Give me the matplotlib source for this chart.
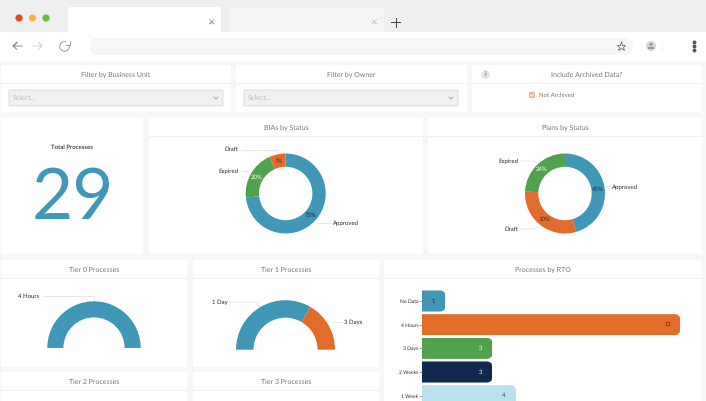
import matplotlib
matplotlib.use("Agg")
import matplotlib.pyplot as plt
from matplotlib.patches import FancyBboxPatch, Rectangle, Circle

plt.rcParams['font.family'] = ['Lato', 'DejaVu Sans']
plt.rcParams['text.hinting'] = 'no_hinting'
plt.rcParams['text.hinting_factor'] = 1

BLUE = '#4097b7'
ORANGE = '#e26d2a'
GREEN = '#51a24c'
NAVY = '#12294f'
LIGHT = '#b9e1ee'
GREY_TXT = '#777777'
DARK_TXT = '#2a2a2a'

W, H = 706, 401

# datos
total_processes = 29

bia_labels = ['Approved', 'Expired', 'Draft']
bia_counts = [11, 3, 1]

plan_labels = ['Approved', 'Draft', 'Expired']
plan_counts = [15, 10, 8]

tier0_labels = ['4 Hours']
tier0_counts = [7]

tier1_labels = ['1 Day', '3 Days']
tier1_counts = [4, 2]

rto_labels = ['No Data', '4 Hours', '3 Days', '2 Weeks', '1 Week']
rto_counts = [1, 11, 3, 3, 4]

fig = plt.figure(figsize=(W / 100, H / 100), dpi=100, facecolor='white')
bg = fig.add_axes([0, 0, 1, 1])
bg.set_xlim(0, W)
bg.set_ylim(H, 0)
bg.axis('off')


def rect(x0, y0, x1, y1, color, r=0, z=1, ec='none', lw=0):
    if r:
        p = FancyBboxPatch((x0 + r, y0 + r), x1 - x0 - 2 * r, y1 - y0 - 2 * r,
                           boxstyle='round,pad=%f,rounding_size=%f' % (r, r),
                           fc=color, ec=ec, lw=lw, zorder=z)
    else:
        p = Rectangle((x0, y0), x1 - x0, y1 - y0, fc=color, ec=ec, lw=lw, zorder=z)
    bg.add_patch(p)


def card(x0, y0, x1, y1, title=None, sep=None):
    rect(x0, y0, x1, y1, 'white', r=2, z=2)
    if title:
        bg.text((x0 + x1) / 2, y0 + 9.5, title, ha='center', va='center',
                fontsize=4.8, color=GREY_TXT, zorder=3)
    if sep:
        bg.plot([x0, x1], [sep, sep], color='#f2f2f2', lw=0.8, zorder=3)


def leader(xs, ys):
    bg.plot(xs, ys, color='#dddddd', lw=0.5, zorder=3)


# navegador
rect(0, 0, W, 32, '#efefef')
rect(68, 7, 221, 33, 'white', r=3, z=2)
rect(229, 8, 384, 32, '#f5f5f5', r=3, z=2)
rect(0, 32, W, 61, 'white')
rect(90, 38, 633, 55, '#f6f6f6', r=8, z=2)
for x, c in [(19, '#e5492a'), (32.5, '#f5b63f'), (46, '#6cbb35')]:
    bg.add_patch(Circle((x, 18), 3.6, fc=c, ec='none', zorder=3))

# iconos
bg.plot([209.5, 214, 211.7, 209.5, 214], [19.5, 24, 21.7, 24, 19.5], color='#999999', lw=0.5, zorder=3)
bg.plot([372, 376.5, 374.2, 372, 376.5], [19.5, 24, 21.7, 24, 19.5], color='#cccccc', lw=0.5, zorder=3)
bg.plot([391, 400], [22, 22], color='#444444', lw=0.7, zorder=3)
bg.plot([395.5, 395.5], [17.5, 26.5], color='#444444', lw=0.7, zorder=3)
bg.plot([22, 13, 17, 13, 17], [46, 46, 42.5, 46, 49.5], color='#8c8c8c', lw=0.7, zorder=3)
bg.plot([33, 42, 38.5, 42, 38.5], [46, 46, 42.5, 46, 49.5], color='#d4d4d4', lw=0.7, zorder=3)
bg.add_patch(Circle((64.5, 46.5), 4.8, fc='none', ec='#8c8c8c', lw=0.6, zorder=3))
rect(66, 40, 71, 45, 'white', z=3)
bg.plot([66, 69.5, 69.5], [44.5, 44.5, 41], color='#8c8c8c', lw=0.6, zorder=4)
bg.plot([620.5], [46], marker='*', ms=6.5, mfc='none', mec='#555555', mew=0.5, zorder=3)
bg.add_patch(Circle((651, 46), 5, fc='#d8d8d8', ec='none', zorder=3))
bg.add_patch(Circle((651, 44.5), 1.6, fc='#9a9a9a', ec='none', zorder=4))
rect(648, 47, 654, 49, '#9a9a9a', z=4)
bg.plot([661.5, 661.5], [42, 50], color='#eeeeee', lw=0.6, zorder=3)
bg.plot([694, 694, 694], [42, 46, 50], ls='none', marker='o', ms=1.8, color='#555555', zorder=3)

# fondo del tablero
rect(0, 61, W, H, '#f7f7f7')

# fila de filtros
card(1, 65, 231, 112, 'Filter by Business Unit', 83)
card(236, 65, 467, 112, 'Filter by Owner', 83)
card(472, 65, 702, 112, 'Include Archived Data?', 83)
for x0, x1 in [(9, 223), (244, 458)]:
    rect(x0, 90, x1, 106, '#f1f1f1', r=1.5, z=3, ec='#d9d9d9', lw=0.6)
    bg.text(x0 + 4, 98.3, 'Select...', ha='left', va='center', fontsize=5.2, color='#bdbdbd', zorder=4)
    bg.plot([x1 - 9, x1 - 7, x1 - 5], [97, 99, 97], color='#8a8a8a', lw=0.5, zorder=4)
bg.add_patch(Circle((485.5, 74.5), 4.3, fc='#e4e4e4', ec='none', zorder=3))
bg.text(485.5, 74.5, 'i', ha='center', va='center', fontsize=4.8, color='#666666', zorder=4)
rect(529, 92, 535, 98, '#eeb692', r=1, z=3)
bg.plot([530.5, 531.7, 533.7], [95, 96.3, 93.7], color='white', lw=0.6, zorder=4)
bg.text(539, 95.5, 'Not Archived', ha='left', va='center', fontsize=4.5, color=GREY_TXT, zorder=3)

# tarjetas
card(1, 118, 143, 254)
card(149, 118, 423, 254, 'BIAs by Status', 136)
card(428, 118, 702, 254, 'Plans by Status', 136)
card(1, 260, 187, 367, 'Tier 0 Processes', 278)
card(193, 260, 379, 367, 'Tier 1 Processes', 278)
card(384, 260, 702, 367 + 40, 'Processes by RTO', 278)
card(1, 372, 187, 410, 'Tier 2 Processes', 390)
card(193, 372, 379, 410, 'Tier 3 Processes', 390)

bg.text(71.5, 147, 'Total Processes', ha='center', va='center', fontsize=4.6,
        color='#444444', fontweight='bold', zorder=3)
bg.text(72.5, 198.7, str(total_processes), ha='center', va='center', fontsize=51,
        color=BLUE, fontweight='normal', zorder=3)


def pie_axes(cx, cy, r):
    # ejes cuadrados centrados en (cx, cy) con radio r en pixeles
    ax = fig.add_axes([(cx - r) / W, 1 - (cy + r) / H, 2 * r / W, 2 * r / H])
    ax.set_zorder(5)
    ax.patch.set_alpha(0)
    return ax


def donut(cx, cy, r, r_in, counts, colors, txt_colors):
    ax = pie_axes(cx, cy, r)
    wedges, texts, autotexts = ax.pie(
        counts, colors=colors, startangle=90, counterclock=False, radius=1,
        wedgeprops={'width': 1 - r_in / r, 'linewidth': 0},
        autopct='%.0f%%', pctdistance=0.83,
        textprops={'fontsize': 4.2})
    for t, c in zip(autotexts, txt_colors):
        t.set_color(c)
    ax.set_xlim(-1, 1)
    ax.set_ylim(-1, 1)


def half_donut(cx, cy, r, r_in, counts, colors):
    ax = pie_axes(cx, cy, r)
    # la mitad de abajo queda transparente
    vals = list(counts) + [sum(counts)]
    wedges, texts = ax.pie(vals, colors=list(colors) + ['none'], startangle=180,
                           counterclock=False, radius=1,
                           wedgeprops={'width': 1 - r_in / r, 'linewidth': 0})
    ax.set_xlim(-1, 1)
    ax.set_ylim(-1, 1)
    return ax


donut(285.7, 193.5, 40, 26.7, bia_counts, [BLUE, GREEN, ORANGE], [NAVY, 'white', '#5a2a10'])
donut(565, 193.5, 40, 26.7, plan_counts, [BLUE, ORANGE, GREEN], [NAVY, '#5a2a10', 'white'])

half_donut(94, 348, 46.7, 30.6, tier0_counts, [BLUE])
bg.text(94, 309.5, str(tier0_counts[0]), ha='center', va='center', fontsize=4.2, color=NAVY, zorder=6)
half_donut(285.5, 349.7, 49.5, 32, tier1_counts, [BLUE, ORANGE])
bg.text(265, 314, str(tier1_counts[0]), ha='center', va='center', fontsize=4.2, color=NAVY, zorder=6)
bg.text(321, 329.5, str(tier1_counts[1]), ha='center', va='center', fontsize=4.2, color='#5a2a10', zorder=6)


def label(x, y, s, ha):
    bg.text(x, y, s, ha=ha, va='center', fontsize=4.1, color=DARK_TXT, zorder=6)


label(238.5, 149.5, bia_labels[2], 'right')
leader([242, 277, 277], [149.5, 149.5, 152])
label(238.5, 171, bia_labels[1], 'right')
leader([242, 248], [171, 171])
label(333, 223, bia_labels[0], 'left')
leader([318, 330], [223, 223])

label(518, 161, plan_labels[2], 'right')
leader([521, 534, 537], [161, 161, 163])
label(612, 187, plan_labels[0], 'left')
leader([606, 610], [187, 186])
label(518, 229, plan_labels[1], 'right')
leader([521, 534, 538], [229, 229, 227])

label(39, 296, tier0_labels[0], 'right')
leader([43, 94, 94], [296, 296, 300])
label(220, 302, tier1_labels[0], 'center')
leader([230, 255, 260], [302, 302, 307])
label(344, 322, tier1_labels[1], 'left')
leader([332, 342], [322, 322])

# barras RTO
bar_colors = [BLUE, ORANGE, GREEN, NAVY, LIGHT]
bar_txt = [NAVY, '#5a2a10', 'white', 'white', '#444444']
ax = fig.add_axes([422 / W, 0, (700 - 422) / W, (H - 289.2) / H])
ax.set_zorder(5)
ax.patch.set_alpha(0)
ax.set_xlim(0, (700 - 422) / 23.48)
# 1 unidad en y = 23.67 px, la primera barra centrada en y=301
y_bottom = (H - 301) / 23.67
y_top = (289.2 - 301) / 23.67
ax.set_ylim(y_bottom, y_top)
pos = list(range(len(rto_labels)))
bars = ax.barh(pos, rto_counts, height=0.89, color=bar_colors, linewidth=0)
for b, n, c in zip(bars, rto_counts, bar_txt):
    # esquinas redondeadas solo a la derecha
    ry = 0.25
    clip = FancyBboxPatch((-1, b.get_y() + ry), n + 1 - ry, b.get_height() - 2 * ry,
                          boxstyle='round,pad=%f,rounding_size=%f' % (ry, ry),
                          mutation_aspect=1, transform=ax.transData)
    b.set_clip_path(clip)
    ax.text(n - 0.53 if n > 1 else n / 2, b.get_y() + b.get_height() / 2, str(n),
            ha='center', va='center', fontsize=4.4, color=c)
ax.set_yticks(pos)
ax.set_yticklabels(rto_labels, fontsize=3.8, color=DARK_TXT)
ax.tick_params(axis='y', length=2.2, width=0.5, color='#777777', pad=0.5)
ax.set_xticks([])
for s in ax.spines.values():
    s.set_visible(False)

fig.savefig('out.png', dpi=100, facecolor='white')
